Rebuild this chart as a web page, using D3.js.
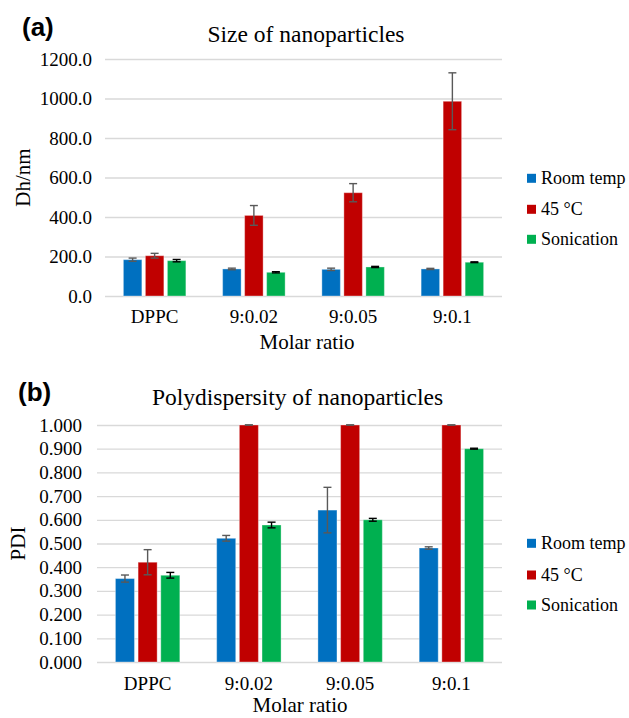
<!DOCTYPE html>
<html>
<head>
<meta charset="utf-8">
<script src="https://cdnjs.cloudflare.com/ajax/libs/d3/7.8.5/d3.min.js"></script>
<style>
    body { margin: 0; background: #fff; }
</style>
</head>
<body>
<script>
var categories = ["DPPC", "9:0.02", "9:0.05", "9:0.1"];
var seriesNames = ["Room temp", "45 °C", "Sonication"];

// (a) size, nm
var sizeRoomTemp = [184, 137, 135, 137];
var sizeRoomTempErr = [8, 4, 6, 3];
var size45 = [204, 408, 523, 986];
var size45Err = [12, 50, 46, 144];
var sizeSonication = [179, 120, 147, 171];
var sizeSonicationErr = [6, 3, 3, 2];
var sizeTicks = [0, 200, 400, 600, 800, 1000, 1200];

// (b) PDI
var pdiRoomTemp = [0.352, 0.522, 0.641, 0.481];
var pdiRoomTempErr = [0.015, 0.012, 0.096, 0.005];
var pdi45 = [0.421, 1.000, 1.000, 1.000];
var pdi45Err = [0.053, 0, 0, 0];
var pdiSonication = [0.366, 0.578, 0.600, 0.900];
var pdiSonicationErr = [0.012, 0.012, 0.006, 0.002];
var pdiTicks = [0, 0.1, 0.2, 0.3, 0.4, 0.5, 0.6, 0.7, 0.8, 0.9, 1.0];

var colors = {"Room temp": "#0070C0", "45 °C": "#C00000", "Sonication": "#00B050"};
var errColors = {"Room temp": "#595959", "45 °C": "#595959", "Sonication": "#000000"};
var serif = "'Liberation Serif', 'Times New Roman', serif";
var sans = "'Liberation Sans', Arial, sans-serif";

var svg = d3.select("body").append("svg")
    .attr("width", 629)
    .attr("height", 718);

function drawChart(cfg) {
    var rows = categories.map(function(c, i) {
        return {
            category: c,
            bars: seriesNames.map(function(s, k) {
                return {series: s, value: cfg.values[k][i], err: cfg.errors[k][i]};
            })
        };
    });

    var y = d3.scaleLinear().domain(cfg.domain).range([cfg.bottom, cfg.top]);
    var x0 = d3.scaleBand().domain(categories).range([cfg.left, cfg.right]).padding(0);
    var bw0 = x0.bandwidth();
    var x1 = d3.scaleBand().domain(seriesNames)
        .range([(bw0 - cfg.groupWidth) / 2, (bw0 + cfg.groupWidth) / 2])
        .paddingInner(0.16);

    var g = svg.append("g");

    // gridlines
    g.append("g")
        .attr("transform", "translate(" + cfg.left + ",0)")
        .call(d3.axisLeft(y).tickValues(cfg.ticks).tickSize(-(cfg.right - cfg.left)).tickFormat(""))
        .call(function(a) {
            a.select(".domain").remove();
            a.selectAll("line").attr("stroke", "#d9d9d9").attr("stroke-width", 1.3);
        });

    // y tick labels
    g.append("g")
        .attr("transform", "translate(" + cfg.labelX + ",0)")
        .call(d3.axisLeft(y).tickValues(cfg.ticks).tickSize(0).tickPadding(0).tickFormat(d3.format(cfg.fmt)))
        .call(function(a) {
            a.select(".domain").remove();
            a.selectAll("text")
                .style("font-family", serif)
                .style("font-size", "19px")
                .style("fill", "#000");
        });

    var groups = g.selectAll(".group")
        .data(rows)
        .enter()
        .append("g")
        .attr("transform", function(d) { return "translate(" + x0(d.category) + ",0)"; });

    groups.selectAll("rect")
        .data(function(d) { return d.bars; })
        .enter()
        .append("rect")
        .attr("x", function(d) { return x1(d.series); })
        .attr("width", x1.bandwidth())
        .attr("y", function(d) { return y(d.value); })
        .attr("height", function(d) { return y(0) - y(d.value); })
        .attr("fill", function(d) { return colors[d.series]; })
        .attr("stroke", "#ffffff")
        .attr("stroke-opacity", 0.35)
        .attr("stroke-width", 1);

    // error bars
    var eb = groups.selectAll(".err")
        .data(function(d) { return d.bars; })
        .enter()
        .append("g")
        .attr("stroke", function(d) { return errColors[d.series]; })
        .attr("stroke-width", 1.4);
    eb.append("line")
        .attr("x1", function(d) { return x1(d.series) + x1.bandwidth() / 2; })
        .attr("x2", function(d) { return x1(d.series) + x1.bandwidth() / 2; })
        .attr("y1", function(d) { return y(d.value - d.err); })
        .attr("y2", function(d) { return y(d.value + d.err); });
    [-1, 1].forEach(function(sgn) {
        eb.append("line")
            .attr("x1", function(d) { return x1(d.series) + x1.bandwidth() / 2 - 4; })
            .attr("x2", function(d) { return x1(d.series) + x1.bandwidth() / 2 + 4; })
            .attr("y1", function(d) { return y(d.value + sgn * d.err); })
            .attr("y2", function(d) { return y(d.value + sgn * d.err); });
    });

    // x tick labels
    g.append("g")
        .attr("transform", "translate(0," + cfg.xLabelY + ")")
        .call(d3.axisBottom(x0).tickSize(0).tickPadding(0))
        .call(function(a) {
            a.select(".domain").remove();
            a.selectAll("text")
                .attr("dy", 0)
                .style("font-family", serif)
                .style("font-size", "19px")
                .style("fill", "#000");
        });

    g.append("text")
        .attr("x", cfg.xTitleX)
        .attr("y", cfg.xTitleY)
        .attr("text-anchor", "middle")
        .style("font-family", serif)
        .style("font-size", "21px")
        .text("Molar ratio");

    g.append("text")
        .attr("transform", "translate(" + cfg.yTitleX + "," + (cfg.top + cfg.bottom) / 2 + ") rotate(-90)")
        .attr("text-anchor", "middle")
        .style("font-family", serif)
        .style("font-size", "21px")
        .text(cfg.yTitle);

    g.append("text")
        .attr("x", cfg.titleX)
        .attr("y", cfg.titleY)
        .attr("text-anchor", "middle")
        .style("font-family", serif)
        .style("font-size", "23.5px")
        .text(cfg.title);

    g.append("text")
        .attr("x", cfg.panelX)
        .attr("y", cfg.panelY)
        .style("font-family", sans)
        .style("font-weight", "bold")
        .style("font-size", "26px")
        .text(cfg.panel);

    // legend
    var leg = g.selectAll(".legend")
        .data(seriesNames)
        .enter()
        .append("g")
        .attr("transform", function(d, i) { return "translate(527," + cfg.legendY[i] + ")"; });
    leg.append("rect")
        .attr("x", 0)
        .attr("y", -4.5)
        .attr("width", 9)
        .attr("height", 9)
        .attr("fill", function(d) { return colors[d]; });
    leg.append("text")
        .attr("x", 14)
        .attr("y", 6)
        .style("font-family", serif)
        .style("font-size", "18px")
        .text(function(d) { return d; });
}

drawChart({
    values: [sizeRoomTemp, size45, sizeSonication],
    errors: [sizeRoomTempErr, size45Err, sizeSonicationErr],
    domain: [0, 1200], ticks: sizeTicks, fmt: ".1f",
    left: 105, right: 502, top: 59, bottom: 296,
    groupWidth: 62.5, labelX: 92,
    xLabelY: 323, xTitleX: 307, xTitleY: 349,
    yTitle: "Dh/nm", yTitleX: 30,
    title: "Size of nanoparticles", titleX: 306, titleY: 41.5,
    panel: "(a)", panelX: 22, panelY: 36,
    legendY: [178.3, 209.3, 239.3]
});

drawChart({
    values: [pdiRoomTemp, pdi45, pdiSonication],
    errors: [pdiRoomTempErr, pdi45Err, pdiSonicationErr],
    domain: [0, 1], ticks: pdiTicks, fmt: ".3f",
    left: 97, right: 502, top: 425, bottom: 662,
    groupWidth: 64.4, labelX: 82,
    xLabelY: 690, xTitleX: 300, xTitleY: 712,
    yTitle: "PDI", yTitleX: 25,
    title: "Polydispersity of nanoparticles", titleX: 297.5, titleY: 405,
    panel: "(b)", panelX: 18, panelY: 401,
    legendY: [543.3, 575, 605]
});
</script>
</body>
</html>
